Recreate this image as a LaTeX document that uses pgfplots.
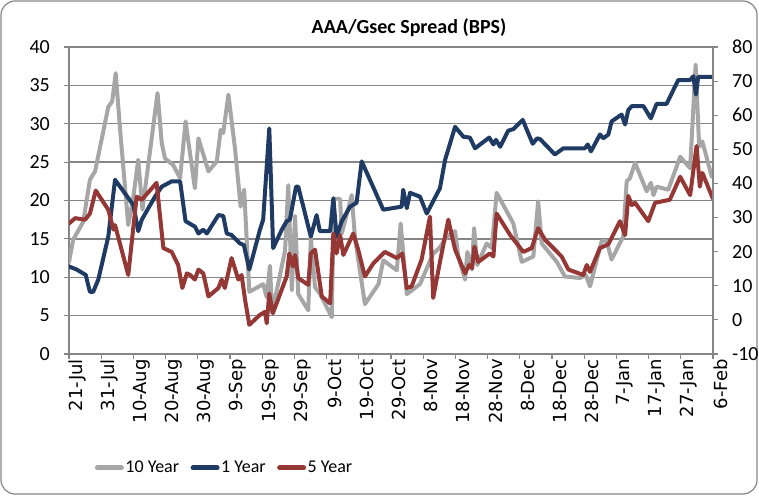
\documentclass[border=0pt]{standalone}
\usepackage{pgfplots}
\pgfplotsset{compat=1.18}
\usepackage{fontspec}
\setmainfont{Carlito}
\newfontfamily\dejavu{DejaVu Sans}
\definecolor{tengray}{RGB}{166,166,166}
\definecolor{oneblue}{RGB}{31,59,99}
\definecolor{fivered}{RGB}{149,55,53}
\definecolor{gridgray}{RGB}{134,134,134}
\begin{document}
\begin{tikzpicture}[x=1pt,y=1pt]
\path[use as bounding box] (0,0) rectangle (759,495);
\draw[gridgray, line width=1.2pt, rounded corners=14pt] (1,1) rectangle (757,494);
\node[font=\fontsize{20}{20}\selectfont\bfseries] at (409,467) {AAA/Gsec Spread (BPS)};
\begin{axis}[
  at={(69pt,141pt)}, anchor=south west,
  scale only axis, width=644pt, height=307pt,
  xmin=0, xmax=200, ymin=0, ymax=40,
  axis x line*=bottom, axis y line*=left,
  axis line style={gridgray, line width=1.3pt, -},
  xtick={0,10,...,200},
  xticklabels={21-Jul,31-Jul,10-Aug,20-Aug,30-Aug,9-Sep,19-Sep,29-Sep,9-Oct,19-Oct,29-Oct,8-Nov,18-Nov,28-Nov,8-Dec,18-Dec,28-Dec,7-Jan,17-Jan,27-Jan,6-Feb},
  x tick label style={rotate=90, anchor=east, font=\dejavu\fontsize{18}{18}\selectfont, inner sep=0pt, xshift=0pt, yshift=-8pt},
  ytick={0,5,...,40},
  y tick label style={font=\fontsize{20}{20}\selectfont, inner sep=0pt},
  yticklabel shift=14pt,
  ymajorgrids, grid style={gridgray, line width=1.3pt},
  tick align=outside, major tick length=5pt,
  tick style={gridgray, line width=1.1pt},
  /pgf/number format/assume math mode=true,
  legend columns=3,
  legend style={draw=none, fill=none, inner sep=0pt, at={(0.04,-0.371)}, anchor=west,
    font=\fontsize{18}{18}\selectfont, column sep=0pt,
    nodes={inner sep=1.5pt},
    /tikz/every even column/.append style={column sep=10pt}},
  legend image code/.code={\draw[#1, line width=5pt, line cap=round] (2pt,0pt) -- (26pt,0pt);},
  every axis plot/.append style={line width=4pt, line join=round, line cap=round},
]
\addplot[tengray] coordinates {
(0,12) (1.3,14.9) (4.4,17.2) (6.5,22.7) (8.1,23.8) (12.2,32.2) (13.4,32.9) (14.5,36.6) (15.8,29.6) (18.4,16.8) (20.0,20.5) (21.5,25.3) (22.8,18.8) (27.5,34.0) (28.8,27.5) (29.8,25.5) (32.4,24.6) (34.5,22.9) (36.2,30.3) (39.1,21.6) (40.2,28.1) (43.3,23.8) (45.9,25.1) (47.1,29.2) (47.9,28.8) (49.5,33.8) (51.6,26.6) (53.3,19.2) (54.4,21.4) (56.0,8.1) (60.3,9.1) (61.4,7.4) (62.4,11.5) (63.1,5.4) (67.1,13.5) (68.1,22) (69.2,8.3) (70.2,18) (71.2,7.8) (74.3,5.7) (75.1,15.2) (76.4,8.7) (78.0,7.8) (81.6,4.8) (82.3,20.2) (84.2,20.2) (84.7,15.7) (87.8,20.7) (88.8,15.2) (91.9,6.5) (96.1,9.1) (97.6,12.2) (101.8,10.9) (103.0,17) (104.9,7.8) (109.0,9.1) (113,13) (115.2,13.9) (117.3,15.3) (119.9,16) (120.9,12.7) (123.0,9.7) (123.7,13.3) (125.1,11) (125.8,16.4) (126.8,11.6) (129.7,14.4) (131.3,13.8) (132.8,21) (138.0,17) (140.6,12) (144.2,12.7) (145.7,19.9) (146.8,14.4) (151.5,12) (154.0,10.1) (158.7,9.9) (160.5,10.3) (161.8,8.8) (165.4,14.7) (167.0,14.7) (168.5,12.3) (172.1,15.3) (173.2,22.5) (174.2,22.9) (175.8,24.9) (179.4,21.2) (180.7,22.3) (181.5,20.7) (182.5,21.8) (186.1,21.4) (189.8,25.7) (192.9,24.2) (194.6,37.7) (195.7,27) (196.7,27.7) (199.6,23.1)
};
\addlegendentry{10 Year}
\addplot[oneblue] coordinates {
(0,11.4) (2.4,11) (5.2,10.3) (6.5,8.1) (7.5,8.1) (9.1,9.7) (12.2,15.3) (14.3,22.7) (20.0,19.4) (21.5,16) (22.6,17.5) (26.7,20.5) (28.8,21.8) (31.9,22.5) (34.5,22.5) (36.2,17.3) (39.1,16.6) (40.2,15.7) (41.7,16.2) (42.8,15.7) (46.4,18.1) (47.9,18) (49.0,15.7) (50.5,15.5) (53.1,14.4) (54.3,14.2) (56.0,11) (59.3,16.2) (60.3,17.5) (62.2,29.4) (63.4,13.8) (66.1,16.2) (67.6,17.3) (68.6,17.5) (70.5,21.8) (71.2,21.8) (75.1,15.3) (76.9,18.1) (77.9,16) (81.1,16) (82.1,20.3) (83.1,15.3) (84.7,17.3) (87.3,19.2) (89.3,19.7) (90.9,25.1) (97.6,18.8) (103.3,19.2) (103.8,21.4) (104.9,19) (105.9,21) (109.0,20.5) (111.1,18.3) (115.2,21.6) (116.8,25.3) (119.9,29.6) (122.5,28.3) (124.5,28.2) (126.1,26.8) (130.5,28.2) (131.8,27.3) (132.6,27.9) (133.9,27) (136.4,29.1) (138.0,29.3) (140.9,30.5) (144.0,27.4) (145.4,28.1) (146.3,28) (150.9,26) (153.5,26.8) (160.2,26.8) (161.1,27.3) (162.1,26.4) (164.9,28.6) (165.9,28.1) (167.5,28.6) (168.5,30.3) (171.6,31.2) (172.7,29.9) (173.7,31.8) (174.8,32.3) (178.4,32.3) (180.7,30.7) (182.5,32.6) (185.6,32.6) (189.2,35.7) (192.9,35.7) (193.9,36.2) (194.7,33.8) (195.4,36.1) (200,36.1)
};
\addlegendentry{1 Year}
\addplot[fivered] coordinates {
(0,17) (1.9,17.7) (5.0,17.5) (6.5,18.3) (8.3,21.3) (12.2,18.8) (13.8,16.2) (14.3,16.8) (18.4,10.3) (21.0,20.5) (22.6,20.1) (27.2,22.3) (29.3,13.8) (31.9,13.3) (33.9,11.6) (35.2,8.6) (36.6,10.5) (37.6,10.3) (39.1,9.7) (40.2,11) (41.7,10.5) (43.3,7.5) (46.4,8.6) (47.4,9.7) (48.4,8.6) (50.5,12.5) (52.6,9.7) (53.6,10.3) (54.7,7) (56.0,3.8) (59.3,5.1) (60.9,5.5) (61.4,4) (62.2,7.9) (63.3,5.3) (67.6,10.1) (68.4,13.1) (69.5,11.4) (70.2,12.9) (71.2,9.9) (74.3,9) (75.1,13.1) (76.4,13.6) (78.5,7.5) (81.1,6.6) (82.1,15.7) (83.1,13.1) (84.2,15.5) (85.2,12.9) (88.3,15.7) (89.8,13.6) (91.9,10.1) (94.5,11.8) (98.1,13.3) (101.8,12.5) (103.5,13.1) (104.9,8.6) (106.4,8.8) (109.5,12.3) (112.1,17.9) (113.1,7.3) (115.2,12) (117.8,17.5) (119.9,13.6) (123.0,10.5) (124.3,11.6) (125.2,11.2) (125.9,14) (127.1,12) (130.7,13.1) (131.8,12.7) (132.8,18.3) (137.0,15.5) (141.1,13.3) (143.7,13.8) (145.7,16.4) (147.8,14.9) (153.0,12.7) (155.1,11) (159.7,10.3) (160.8,11.6) (161.8,10.7) (164.9,13.8) (167.5,14.3) (171.1,17.3) (172.7,15.5) (173.7,20.6) (174.8,19.4) (175.8,19.7) (179.9,17.3) (182.0,19.7) (186.6,20.1) (189.8,23.1) (192.9,20.7) (194.9,27.1) (195.9,21.8) (196.7,23.6) (199.9,20.3)
};
\addlegendentry{5 Year}
\end{axis}
\begin{axis}[
  at={(69pt,141pt)}, anchor=south west,
  scale only axis, width=644pt, height=307pt,
  xmin=0, xmax=200, ymin=-10, ymax=80,
  axis x line=none, axis y line*=right,
  axis line style={gridgray, line width=1.3pt, -},
  ytick={-10,0,...,80},
  y tick label style={font=\fontsize{20}{20}\selectfont, inner sep=0pt},
  yticklabel shift=14pt,
  tick align=outside, major tick length=5pt,
  tick style={gridgray, line width=1.1pt},
  /pgf/number format/assume math mode=true,
]
\end{axis}
\end{tikzpicture}
\end{document}
